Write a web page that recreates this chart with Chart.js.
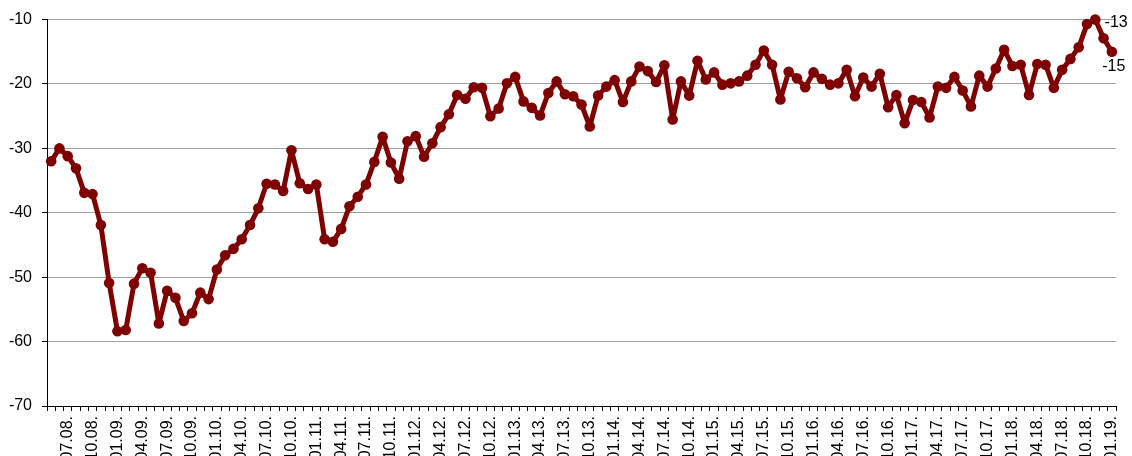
<!DOCTYPE html>
<html>
<head>
<meta charset="utf-8">
<script src="https://cdn.jsdelivr.net/npm/chart.js@4"></script>
<style>
  html, body { margin: 0; padding: 0; background: #fff; overflow: hidden; }
  #wrap { width: 1132px; height: 456px; position: relative; }
</style>
</head>
<body>
<div id="wrap"><canvas id="chart"></canvas></div>
<script>
// monthly, 05.08. .. 01.19.
const months = [
  '05.08.', '06.08.', '07.08.', '08.08.', '09.08.', '10.08.', '11.08.', '12.08.',
  '01.09.', '02.09.', '03.09.', '04.09.', '05.09.', '06.09.', '07.09.', '08.09.', '09.09.', '10.09.', '11.09.', '12.09.',
  '01.10.', '02.10.', '03.10.', '04.10.', '05.10.', '06.10.', '07.10.', '08.10.', '09.10.', '10.10.', '11.10.', '12.10.',
  '01.11.', '02.11.', '03.11.', '04.11.', '05.11.', '06.11.', '07.11.', '08.11.', '09.11.', '10.11.', '11.11.', '12.11.',
  '01.12.', '02.12.', '03.12.', '04.12.', '05.12.', '06.12.', '07.12.', '08.12.', '09.12.', '10.12.', '11.12.', '12.12.',
  '01.13.', '02.13.', '03.13.', '04.13.', '05.13.', '06.13.', '07.13.', '08.13.', '09.13.', '10.13.', '11.13.', '12.13.',
  '01.14.', '02.14.', '03.14.', '04.14.', '05.14.', '06.14.', '07.14.', '08.14.', '09.14.', '10.14.', '11.14.', '12.14.',
  '01.15.', '02.15.', '03.15.', '04.15.', '05.15.', '06.15.', '07.15.', '08.15.', '09.15.', '10.15.', '11.15.', '12.15.',
  '01.16.', '02.16.', '03.16.', '04.16.', '05.16.', '06.16.', '07.16.', '08.16.', '09.16.', '10.16.', '11.16.', '12.16.',
  '01.17.', '02.17.', '03.17.', '04.17.', '05.17.', '06.17.', '07.17.', '08.17.', '09.17.', '10.17.', '11.17.', '12.17.',
  '01.18.', '02.18.', '03.18.', '04.18.', '05.18.', '06.18.', '07.18.', '08.18.', '09.18.', '10.18.', '11.18.', '12.18.',
  '01.19.'
];

// only every 3rd month gets a tick label
const shownLabels = [
  '07.08.', '10.08.', '01.09.', '04.09.', '07.09.', '10.09.', '01.10.', '04.10.', '07.10.', '10.10.',
  '01.11.', '04.11.', '07.11.', '10.11.', '01.12.', '04.12.', '07.12.', '10.12.', '01.13.', '04.13.',
  '07.13.', '10.13.', '01.14.', '04.14.', '07.14.', '10.14.', '01.15.', '04.15.', '07.15.', '10.15.',
  '01.16.', '04.16.', '07.16.', '10.16.', '01.17.', '04.17.', '07.17.', '10.17.', '01.18.', '04.18.',
  '07.18.', '10.18.', '01.19.'
];

const values = [
  -32.0, -30.0, -31.2, -33.1, -36.9, -37.1, -41.9, -50.9,
  -58.4, -58.2, -51.0, -48.6, -49.3, -57.2, -52.1, -53.2, -56.8, -55.6, -52.4, -53.4,
  -48.8, -46.6, -45.6, -44.1, -41.9, -39.3, -35.5, -35.6, -36.6, -30.3, -35.4, -36.3,
  -35.6, -44.1, -44.5, -42.5, -39.0, -37.5, -35.6, -32.1, -28.2, -32.2, -34.7, -28.9,
  -28.1, -31.3, -29.2, -26.7, -24.7, -21.7, -22.3, -20.5, -20.6, -25.0, -23.8, -19.9,
  -18.9, -22.7, -23.7, -24.9, -21.4, -19.6, -21.6, -21.9, -23.2, -26.6, -21.8, -20.4,
  -19.4, -22.8, -19.6, -17.3, -18.0, -19.7, -17.1, -25.5, -19.6, -21.8, -16.4, -19.3,
  -18.2, -20.1, -19.9, -19.6, -18.7, -17.0, -14.8, -17.0, -22.4, -18.1, -19.1, -20.5,
  -18.2, -19.2, -20.1, -19.9, -17.8, -21.9, -19.0, -20.4, -18.4, -23.6, -21.7, -26.1,
  -22.5, -22.8, -25.2, -20.4, -20.6, -18.9, -21.0, -23.5, -18.7, -20.4, -17.6, -14.7,
  -17.2, -17.0, -21.7, -16.9, -17.0, -20.6, -17.8, -16.1, -14.3, -10.7, -10.0, -12.9,
  -15.0
];

const yTicks = [-70, -60, -50, -40, -30, -20, -10];

// last two points carry value labels
const annotated = [
  { index: 127, text: '-13', side: 'above' },
  { index: 128, text: '-15', side: 'below' }
];

const lineColor = '#7f0000';
const fontFace = '"Liberation Sans", Arial, sans-serif';

const valueLabels = {
  id: 'valueLabels',
  afterDatasetsDraw(chart) {
    const ctx = chart.ctx;
    const meta = chart.getDatasetMeta(0);
    ctx.save();
    ctx.font = '16px ' + fontFace;
    ctx.fillStyle = '#000';
    ctx.textBaseline = 'middle';
    annotated.forEach(a => {
      const pt = meta.data[a.index];
      if (a.side === 'above') {
        ctx.textAlign = 'left';
        ctx.fillText(a.text, pt.x + 1, pt.y - 16);
      } else {
        ctx.textAlign = 'center';
        ctx.fillText(a.text, pt.x + 2, pt.y + 15);
      }
    });
    ctx.restore();
  }
};

Chart.defaults.font.family = fontFace;
Chart.defaults.font.size = 15;
Chart.defaults.color = '#000';

new Chart(document.getElementById('chart'), {
  type: 'line',
  data: {
    labels: months,
    datasets: [{
      data: values,
      borderColor: lineColor,
      backgroundColor: lineColor,
      borderWidth: 5,
      borderJoinStyle: 'round',
      borderCapStyle: 'round',
      pointRadius: 5.3,
      pointBorderWidth: 0,
      pointBackgroundColor: lineColor,
      tension: 0,
      clip: false
    }]
  },
  options: {
    responsive: true,
    maintainAspectRatio: false,
    animation: false,
    layout: { padding: { top: 19, right: 16, left: 0, bottom: 0 } },
    plugins: {
      legend: { display: false },
      tooltip: { enabled: false }
    },
    scales: {
      x: {
        type: 'category',
        offset: true,
        afterFit(scale) {
          scale.height = 50;
          scale.paddingLeft = 0;
          scale.paddingRight = 0;
        },
        grid: {
          offset: true,
          drawOnChartArea: false,
          drawTicks: true,
          tickLength: 5,
          tickColor: '#000',
          tickWidth: 1
        },
        border: { color: '#000', width: 1 },
        ticks: {
          autoSkip: false,
          minRotation: 90,
          maxRotation: 90,
          padding: 5,
          font: { size: 16 },
          callback(val, i) {
            const lab = months[i];
            return shownLabels.includes(lab) ? lab : '';
          }
        }
      },
      y: {
        min: yTicks[0],
        max: yTicks[yTicks.length - 1],
        afterFit(scale) { scale.width = 47; },
        afterBuildTicks(scale) { scale.ticks = yTicks.map(v => ({ value: v })); },
        grid: {
          color: '#a0a0a0',
          lineWidth: 1,
          borderDash: [1, 1],
          tickLength: 5,
          tickColor: '#000',
          tickBorderDash: []
        },
        border: { color: '#000', width: 1 },
        ticks: {
          padding: 10,
          font: { size: 16 }
        }
      }
    }
  },
  plugins: [valueLabels]
});
</script>
</body>
</html>
